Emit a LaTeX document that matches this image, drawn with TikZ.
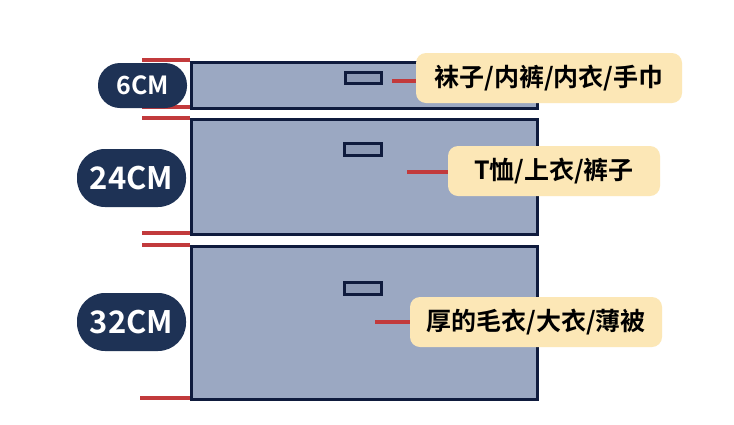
\documentclass[tikz,border=0pt]{standalone}
\usepackage{fontspec}
\setmainfont{Noto Sans CJK SC}[BoldFont={* Bold}]
\newfontfamily\cjkb{Noto Sans CJK SC Bold}
\definecolor{drawerfill}{HTML}{9BA8C2}
\definecolor{navy}{HTML}{0F1B3D}
\definecolor{pillnavy}{HTML}{1E3255}
\definecolor{tickred}{HTML}{C23A3C}
\definecolor{labelyellow}{HTML}{FCE7B6}
\tikzset{
  drawer/.style={draw=navy, fill=drawerfill, line width=3pt},
  handle/.style={draw=navy, fill=drawerfill!90!navy, line width=3pt},
  tick/.style={draw=tickred, line width=3.2pt},
  pill/.style={fill=pillnavy, rounded corners=22pt, text=white, font=\cjkb, inner sep=0pt},
  tag/.style={fill=labelyellow, rounded corners=10pt, text=black, font=\cjkb\fontsize{25}{28}\selectfont, inner sep=0pt, anchor=center},
}
\begin{document}
\begin{tikzpicture}[x=1pt,y=-1pt]
\useasboundingbox (0,0) rectangle (734,424);
\fill[white] (0,0) rectangle (734,424);
% red ticks
\coordinate (t1a) at (142,60);  \coordinate (t1b) at (190,60);
\coordinate (t2a) at (142,107); \coordinate (t2b) at (190,107);
\coordinate (t3a) at (142,118); \coordinate (t3b) at (190,118);
\coordinate (t4a) at (142,233); \coordinate (t4b) at (190,233);
\coordinate (t5a) at (142,245); \coordinate (t5b) at (190,245);
\coordinate (t6a) at (140,398); \coordinate (t6b) at (190,398);
\foreach \i in {1,...,6} { \draw[tick] (t\i a) -- (t\i b); }
% drawers
\node[drawer, minimum width=346pt, minimum height=46pt, inner sep=0pt, anchor=north west] (d1) at (189.5,61) {};
\node[drawer, minimum width=346pt, minimum height=115pt, inner sep=0pt, anchor=north west] (d2) at (189.5,118) {};
\node[drawer, minimum width=346pt, minimum height=153pt, inner sep=0pt, anchor=north west] (d3) at (189.5,245) {};
% handles
\node[handle, minimum width=36pt, minimum height=11pt, inner sep=0pt] (h1) at (363,78) {};
\node[handle, minimum width=37pt, minimum height=12pt, inner sep=0pt] (h2) at (363,149.5) {};
\node[handle, minimum width=37pt, minimum height=12pt, inner sep=0pt] (h3) at (362.5,288.5) {};
% pills
\node[pill, minimum width=89pt, minimum height=45pt, font=\cjkb\fontsize{25}{28}\selectfont] (p1) at (142.5,85.5) {6CM};
\node[pill, minimum width=109pt, minimum height=58pt, rounded corners=28pt, font=\cjkb\fontsize{31}{34}\selectfont] (p2) at (131.5,178) {24CM};
\node[pill, minimum width=109pt, minimum height=58pt, rounded corners=28pt, font=\cjkb\fontsize{31}{34}\selectfont] (p3) at (131.5,322) {32CM};
% labels
\node[tag, minimum width=266pt, minimum height=50pt] (l1) at (549,78) {袜子/内裤/内衣/手巾};
\node[tag, minimum width=212pt, minimum height=50pt] (l2) at (554,171) {T恤/上衣/裤子};
\node[tag, minimum width=252pt, minimum height=50pt] (l3) at (536,322) {厚的毛衣/大衣/薄被};
% connectors
\coordinate (c1) at (392,81);
\coordinate (c2) at (407,172);
\coordinate (c3) at (375,322);
\draw[tick] (c1) -- (l1.west |- c1);
\draw[tick] (c2) -- (l2.west |- c2);
\draw[tick] (c3) -- (l3.west |- c3);
\end{tikzpicture}
\end{document}
